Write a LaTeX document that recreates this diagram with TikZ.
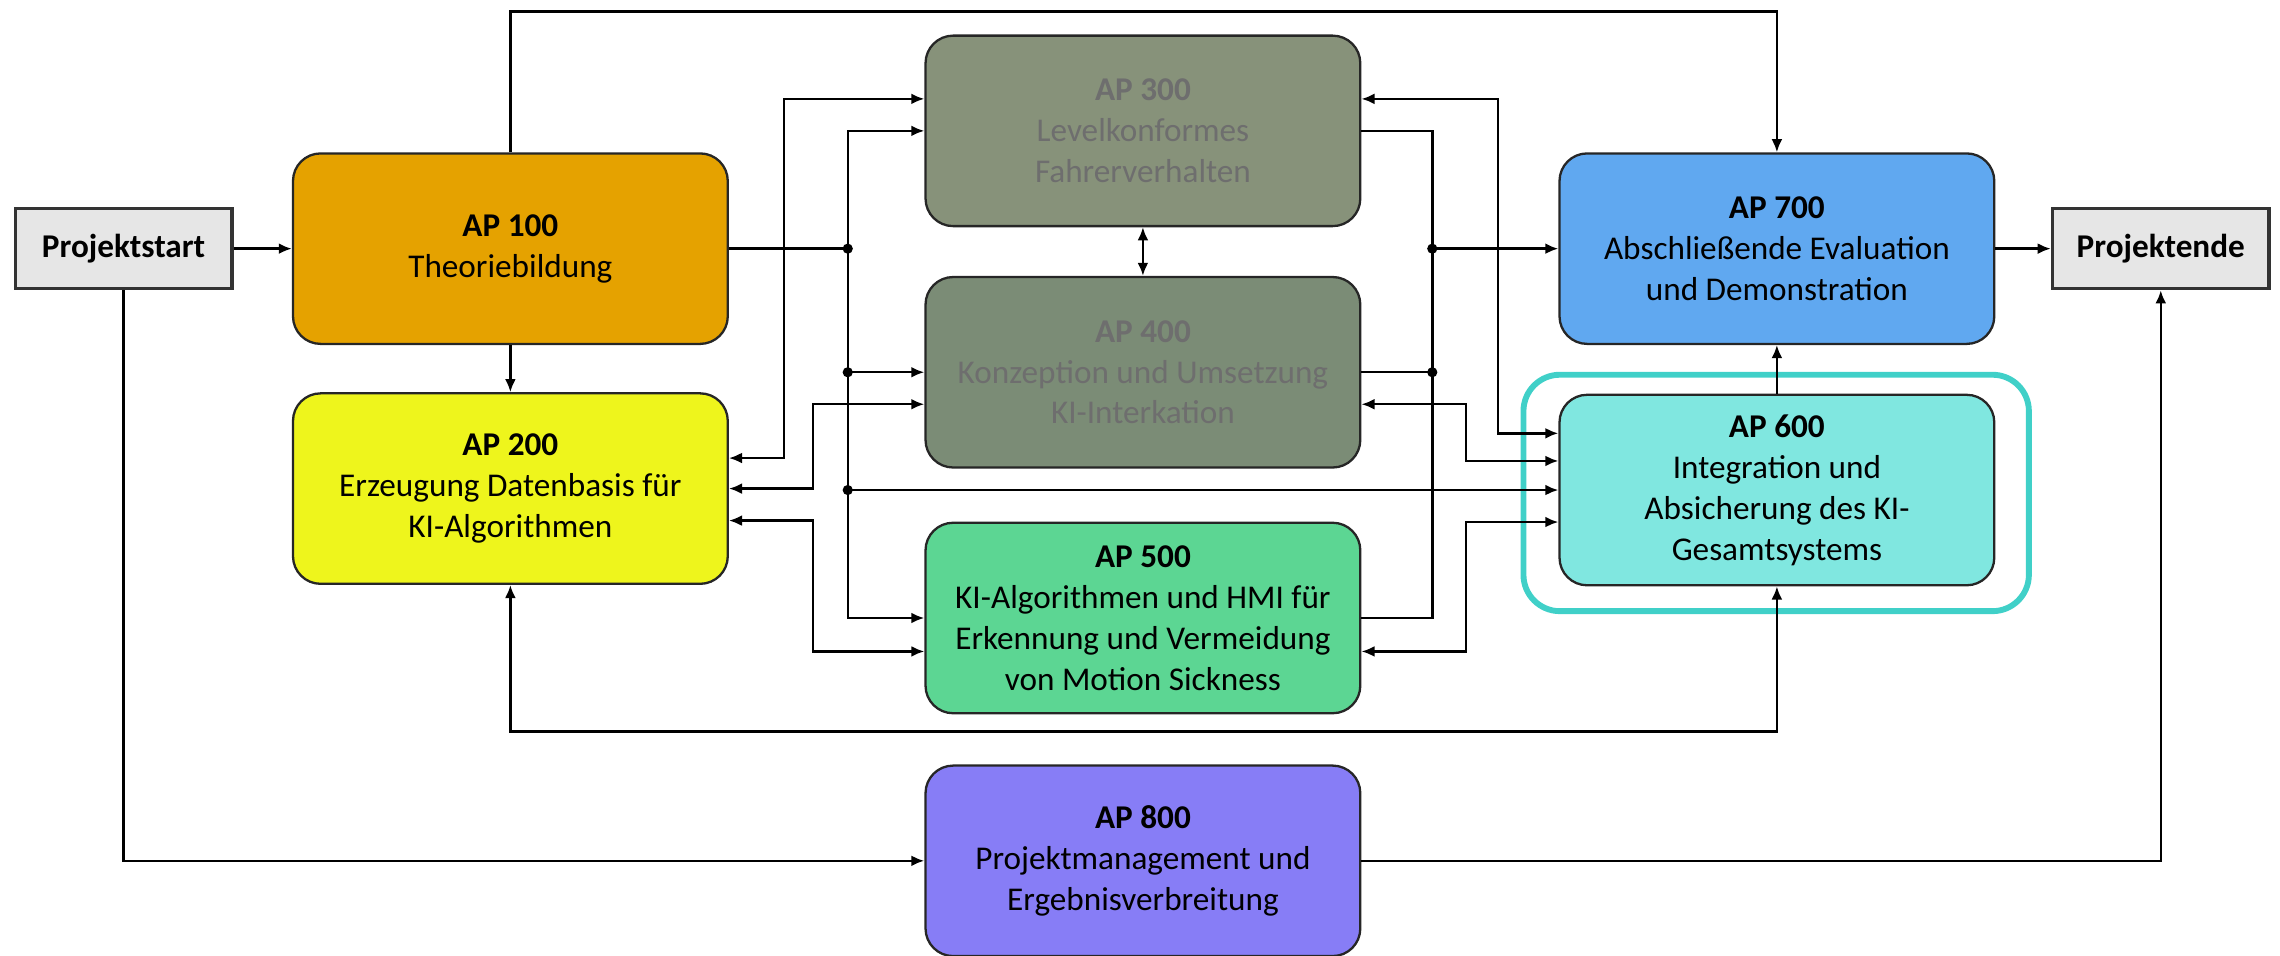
\documentclass[tikz,border=0pt]{standalone}
\usepackage{fontspec}
\setmainfont{Carlito}
\usetikzlibrary{arrows.meta,calc}

\definecolor{ap100col}{HTML}{E5A200}
\definecolor{ap200col}{HTML}{EEF51C}
\definecolor{ap300col}{HTML}{87927A}
\definecolor{ap400col}{HTML}{7B8C76}
\definecolor{ap500col}{HTML}{5CD693}
\definecolor{ap600col}{HTML}{80E7E0}
\definecolor{ap700col}{HTML}{60A8F0}
\definecolor{ap800col}{HTML}{877DF6}
\definecolor{endcol}{HTML}{E6E6E6}
\definecolor{hilitecol}{HTML}{40D0C8}
\definecolor{dimtextcol}{HTML}{6E6E6E}

\tikzset{
  apbox/.style={draw=black!85, line width=0.9pt, rounded corners=0.38cm,
    minimum width=5.98cm, minimum height=2.62cm, inner sep=0pt,
    align=center, font=\fontsize{13}{16}\selectfont},
  endbox/.style={draw=black!80, fill=endcol, line width=1.3pt,
    minimum width=2.98cm, minimum height=1.1cm, inner sep=0pt,
    font=\fontsize{13}{16}\selectfont\bfseries},
  dimbox/.style={text=dimtextcol},
  wire/.style={line width=0.95pt},
  conn/.style={wire, -{Latex[length=1.8mm,width=1.5mm]}},
  conn2/.style={wire, {Latex[length=1.8mm,width=1.5mm]}-{Latex[length=1.8mm,width=1.5mm]}},
  hilite/.style={draw=hilitecol, line width=2.3pt, rounded corners=0.5cm}
}

\begin{document}
\begin{tikzpicture}[x=0.2mm, y=-0.2mm]
  \useasboundingbox (0,0) rectangle (1568,657);

  % Start und Ende
  \node[endbox] (start) at (85,171) {Projektstart};
  \node[endbox] (ende) at (1486,171) {Projektende};

  % Arbeitspakete
  \node[apbox, fill=ap100col] (ap100) at (351,171) {\textbf{AP 100}\\Theoriebildung};
  \node[apbox, fill=ap200col] (ap200) at (351,336) {\textbf{AP 200}\\Erzeugung Datenbasis für\\KI-Algorithmen};
  \node[apbox, dimbox, fill=ap300col] (ap300) at (786,90) {\textbf{AP 300}\\Levelkonformes\\Fahrerverhalten};
  \node[apbox, dimbox, fill=ap400col] (ap400) at (786,256) {\textbf{AP 400}\\Konzeption und Umsetzung\\KI-Interkation};
  \node[apbox, fill=ap500col] (ap500) at (786,425) {\textbf{AP 500}\\KI-Algorithmen und HMI für\\Erkennung und Vermeidung\\von Motion Sickness};
  \node[apbox, fill=ap600col] (ap600) at (1222,337) {\textbf{AP 600}\\Integration und\\Absicherung des KI-\\Gesamtsystems};
  \node[apbox, fill=ap700col] (ap700) at (1222,171) {\textbf{AP 700}\\Abschließende Evaluation\\und Demonstration};
  \node[apbox, fill=ap800col] (ap800) at (786,592) {\textbf{AP 800}\\Projektmanagement und\\Ergebnisverbreitung};

  % Markierung AP 600
  \draw[hilite] ($(ap600.north west)+(-24,-13)$) rectangle ($(ap600.south east)+(23,17)$);

  \coordinate (lbus) at (583,0);
  \coordinate (rbus) at (985,0);
  \coordinate (topline) at (0,8);
  \coordinate (botline) at (0,503);

  % Hauptfluss
  \draw[conn] (start) -- (ap100);
  \draw[conn] (ap700) -- (ende);
  \draw[conn] (start.south) |- (ap800.west);
  \draw[conn] (ap800.east) -| (ende.south);
  \draw[conn] (ap100.north) -- (ap100.north |- topline) -| (ap700.north);
  \draw[conn] (ap100) -- (ap200);
  \draw[conn] (ap600) -- (ap700);
  \draw[conn2] (ap300) -- (ap400);
  \draw[conn2] (ap200.south) -- (ap200.south |- botline) -| (ap600.south);

  % linker Verteiler
  \draw[wire] (ap100.east) -- (ap100.east -| lbus);
  \draw[conn] (ap100.east -| lbus) |- (ap300.west);
  \draw[conn] (ap100.east -| lbus) |- (ap500.west);
  \draw[conn] (ap400.west -| lbus) -- (ap400.west);
  \draw[conn] (ap600.west -| lbus) -- (ap600.west);

  % rechter Sammler
  \draw[wire] (ap300.east) -| (ap500.east -| rbus) -- (ap500.east);
  \draw[wire] (ap400.east) -- (ap400.east -| rbus);
  \draw[conn] (ap700.west -| rbus) -- (ap700.west);

  % Rueckkopplungen
  \draw[conn2] ($(ap200.east)+(0,-21)$) -- ++(38,0) |- ($(ap300.west)+(0,-22)$);
  \draw[conn2] (ap200.east) -- ++(58,0) |- ($(ap400.west)+(0,22)$);
  \draw[conn2] ($(ap200.east)+(0,22)$) -- ++(58,0) |- ($(ap500.west)+(0,23)$);
  \draw[conn2] ($(ap300.east)+(0,-22)$) -- ++(94,0) |- ($(ap600.west)+(0,-39)$);
  \draw[conn2] ($(ap400.east)+(0,22)$) -- ++(72,0) |- ($(ap600.west)+(0,-20)$);
  \draw[conn2] ($(ap500.east)+(0,23)$) -- ++(72,0) |- ($(ap600.west)+(0,22)$);

  % Knotenpunkte
  \foreach \a/\b in {ap100.east/lbus, ap400.west/lbus, ap600.west/lbus, ap700.west/rbus, ap400.east/rbus}
    \fill (\a -| \b) circle (2pt);
\end{tikzpicture}
\end{document}
